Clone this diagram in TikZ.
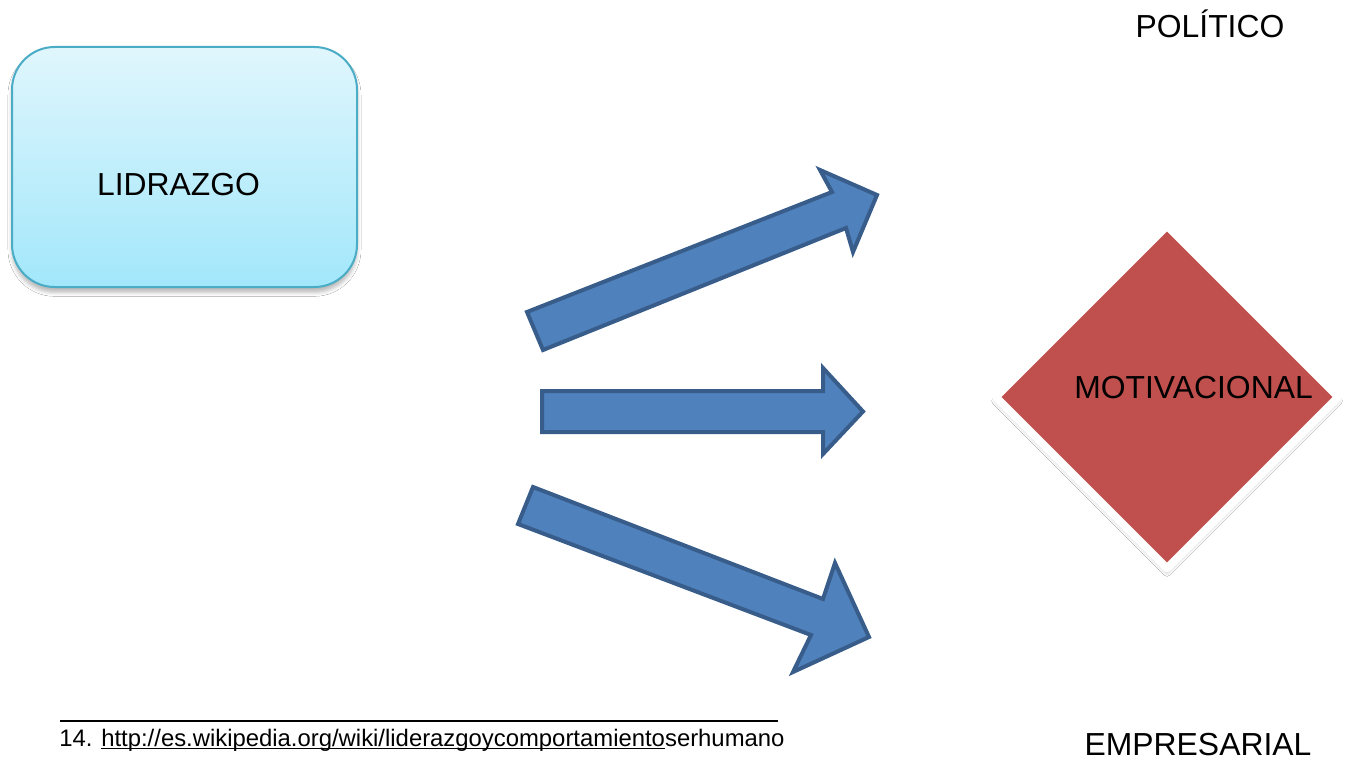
\documentclass[tikz,border=0pt]{standalone}
\usepackage{fontspec}
\setmainfont{Liberation Sans}
\usetikzlibrary{shapes.geometric,shadows.blur}
\definecolor{arrowfill}{HTML}{4F81BD}
\definecolor{arrowline}{HTML}{385D8A}
\definecolor{boxtop}{HTML}{E0F6FC}
\definecolor{boxbot}{HTML}{A2E7FB}
\definecolor{boxline}{HTML}{4BACC6}
\definecolor{diafill}{HTML}{C0504D}
\newsavebox\myulbox
\newcommand\lineunder[1]{\sbox\myulbox{#1}\rlap{\rule[-2.4pt]{\wd\myulbox}{1.2pt}}\usebox\myulbox}
\tikzset{
  blockarrow/.style={fill=arrowfill, draw=arrowline, line width=3pt, line join=miter},
  bigtext/.style={font=\fontsize{23.9}{28}\selectfont, inner sep=0pt},
  leadbox/.style={draw=boxline, line width=1.5pt, rounded corners=32pt, top color=boxtop, bottom color=boxbot,
    minimum width=258.75pt, minimum height=180pt, inner sep=0pt,
    blur shadow={shadow xshift=0pt, shadow yshift=-4pt, shadow blur radius=3pt, shadow opacity=28}},
  motivdia/.style={diamond, aspect=1, fill=diafill, draw=white, line width=6pt, line join=round,
    minimum width=259.5pt, minimum height=259.5pt, inner sep=0pt,
    blur shadow={shadow xshift=0pt, shadow yshift=-3pt, shadow blur radius=3pt, shadow opacity=30}},
}
\begin{document}
\begin{tikzpicture}[x=0.75pt,y=-0.75pt]
\path[use as bounding box, fill=white] (0,0) rectangle (1348,759);
% LIDRAZGO box
\node[leadbox] (lid) at (184.5,167) {};
\node[bigtext, anchor=base] (lidtxt) at (178.5,196) {LIDRAZGO};
% diamond
\node[motivdia] (mot) at (1167,397) {};
\node[bigtext, anchor=base west] (mottxt) at (1074,398) {MOTIVACIONAL};
% labels
\node[bigtext, anchor=base] (pol) at (1210,38) {POLÍTICO};
\node[bigtext, anchor=base] (emp) at (1198,755) {EMPRESARIAL};
% arrows
\draw[blockarrow] (527,312) -- (832,192) -- (820,170) -- (877,195) -- (853,252) -- (846,228) -- (543,350) -- cycle;
\draw[blockarrow] (542,391) -- (823,391) -- (823,368) -- (863,411.5) -- (823,454) -- (823,432) -- (542,432) -- cycle;
\draw[blockarrow] (533,487) -- (823,599) -- (835,563) -- (869,637) -- (793,672) -- (811,635) -- (518,524) -- cycle;
% footnote
\coordinate (ruleL) at (60,721);
\coordinate (ruleR) at (778,721);
\draw[line width=0.8pt] (ruleL) -- (ruleR);
\node[anchor=base west, inner sep=0pt, font=\fontsize{17.9}{20}\selectfont] (foot) at (59,746)
  {14. \lineunder{http://es.wikipedia.org/wiki/liderazgoycomportamiento}serhumano};
\end{tikzpicture}
\end{document}
